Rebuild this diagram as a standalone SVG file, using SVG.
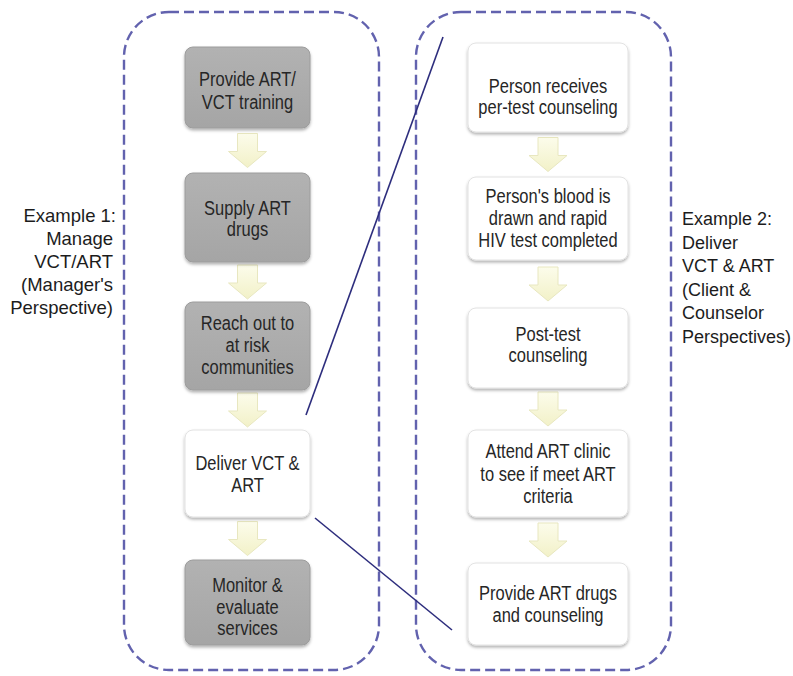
<svg xmlns="http://www.w3.org/2000/svg" xmlns:xlink="http://www.w3.org/1999/xlink" width="793" height="676" viewBox="0 0 793 676">
  <defs>
    <linearGradient id="grayFill" x1="0" y1="0" x2="0" y2="1">
      <stop offset="0" stop-color="#b2b2b2"/>
      <stop offset="1" stop-color="#a5a5a5"/>
    </linearGradient>
    <linearGradient id="ylwFill" x1="0" y1="0" x2="0" y2="1">
      <stop offset="0" stop-color="#fcfceb"/>
      <stop offset="1" stop-color="#f2f1c8"/>
    </linearGradient>
    <filter id="shadow" x="-10%" y="-10%" width="120%" height="130%">
      <feDropShadow dx="0" dy="2" stdDeviation="1.8" flood-color="#000" flood-opacity="0.3"/>
    </filter>
    <!-- block arrow pointing down, origin at top centre -->
    <path id="downArrow" d="M-10,0 H10 V18 H19 L0,34 L-19,18 H-10 Z"/>
  </defs>
  <style>
    .frame{fill:none;stroke:#6262ae;stroke-width:2.4;stroke-dasharray:10 5}
    .gbox{fill:url(#grayFill);stroke:#9c9c9c;stroke-width:1;filter:url(#shadow)}
    .wbox{fill:#ffffff;stroke:#e2e2e2;stroke-width:1;filter:url(#shadow)}
    .arr{fill:url(#ylwFill);stroke:#e8e7c0;stroke-width:1}
    .t{font-family:"Liberation Sans",Arial,Helvetica,sans-serif;font-size:16.5px;fill:#262626;text-anchor:middle}
    .lbl{font-family:"Liberation Sans",Arial,Helvetica,sans-serif;font-size:18.5px;fill:#1c1c1c}
    .lblR{text-anchor:end}
    .small{font-size:18px}
    .link{fill:none;stroke:#2d2d7d;stroke-width:1.6}
  </style>

  <rect width="793" height="676" fill="#ffffff"/>

  <!-- group frames -->
  <g id="frames">
    <rect class="frame" x="124" y="12" width="255" height="658" rx="45" ry="45"/>
    <rect class="frame" x="416" y="12" width="255" height="658" rx="45" ry="45"/>
  </g>

  <!-- side captions -->
  <g id="caption-left" class="lbl lblR">
    <text x="116" y="222">Example 1:</text>
    <text x="113" y="245">Manage</text>
    <text x="113" y="268">VCT/ART</text>
    <text x="113" y="291">(Manager's</text>
    <text x="113" y="314">Perspective)</text>
  </g>
  <g id="caption-right" class="lbl small">
    <text x="682" y="225">Example 2:</text>
    <text x="682" y="248.5">Deliver</text>
    <text x="682" y="272">VCT &amp; ART</text>
    <text x="682" y="295.5">(Client &amp;</text>
    <text x="682" y="319">Counselor</text>
    <text x="682" y="342.5">Perspectives)</text>
  </g>

  <!-- flow arrows -->
  <g id="flow-arrows" class="arr">
    <use xlink:href="#downArrow" x="247.5" y="133.5"/>
    <use xlink:href="#downArrow" x="247.5" y="265"/>
    <use xlink:href="#downArrow" x="247.5" y="393"/>
    <use xlink:href="#downArrow" x="247.5" y="521.5"/>
    <use xlink:href="#downArrow" x="548" y="137.5"/>
    <use xlink:href="#downArrow" x="548" y="267"/>
    <use xlink:href="#downArrow" x="548" y="392"/>
    <use xlink:href="#downArrow" x="548" y="523"/>
  </g>

  <!-- manager's perspective -->
  <g id="m1">
    <rect class="gbox" x="185" y="47" width="125" height="81" rx="8"/>
    <text class="t" transform="matrix(1 0 0 1.2 247.5 86)">Provide ART/</text>
    <text class="t" transform="matrix(1 0 0 1.2 247.5 109)">VCT training</text>
  </g>
  <g id="m2">
    <rect class="gbox" x="185" y="173" width="125" height="89" rx="8"/>
    <text class="t" transform="matrix(1 0 0 1.2 247.5 215)">Supply ART</text>
    <text class="t" transform="matrix(1 0 0 1.2 247.5 236)">drugs</text>
  </g>
  <g id="m3">
    <rect class="gbox" x="185" y="302" width="125" height="88" rx="8"/>
    <text class="t" transform="matrix(1 0 0 1.2 247.5 330)">Reach out to</text>
    <text class="t" transform="matrix(1 0 0 1.2 247.5 352)">at risk</text>
    <text class="t" transform="matrix(1 0 0 1.2 247.5 373.5)">communities</text>
  </g>
  <g id="m4">
    <rect class="wbox" x="185" y="430" width="125" height="87" rx="8"/>
    <text class="t" transform="matrix(1 0 0 1.2 247.5 470)">Deliver VCT &amp;</text>
    <text class="t" transform="matrix(1 0 0 1.2 247.5 492)">ART</text>
  </g>
  <g id="m5">
    <rect class="gbox" x="185" y="560" width="125" height="85" rx="8"/>
    <text class="t" transform="matrix(1 0 0 1.2 247.5 592)">Monitor &amp;</text>
    <text class="t" transform="matrix(1 0 0 1.2 247.5 613.5)">evaluate</text>
    <text class="t" transform="matrix(1 0 0 1.2 247.5 635)">services</text>
  </g>

  <!-- client & counselor perspective -->
  <g id="c1">
    <rect class="wbox" x="468" y="43" width="160" height="89" rx="8"/>
    <text class="t" transform="matrix(1 0 0 1.2 548 93)">Person receives</text>
    <text class="t" transform="matrix(1 0 0 1.2 548 114)">per-test counseling</text>
  </g>
  <g id="c2">
    <rect class="wbox" x="468" y="177" width="160" height="83" rx="8"/>
    <text class="t" transform="matrix(1 0 0 1.2 548 203)">Person's blood is</text>
    <text class="t" transform="matrix(1 0 0 1.2 548 225)">drawn and rapid</text>
    <text class="t" transform="matrix(1 0 0 1.2 548 247)">HIV test completed</text>
  </g>
  <g id="c3">
    <rect class="wbox" x="468" y="308" width="160" height="80" rx="8"/>
    <text class="t" transform="matrix(1 0 0 1.2 548 341)">Post-test</text>
    <text class="t" transform="matrix(1 0 0 1.2 548 362)">counseling</text>
  </g>
  <g id="c4">
    <rect class="wbox" x="468" y="430" width="160" height="87" rx="8"/>
    <text class="t" transform="matrix(1 0 0 1.2 548 458)">Attend ART clinic</text>
    <text class="t" transform="matrix(1 0 0 1.2 548 480.5)">to see if meet ART</text>
    <text class="t" transform="matrix(1 0 0 1.2 548 503)">criteria</text>
  </g>
  <g id="c5">
    <rect class="wbox" x="468" y="563" width="160" height="82" rx="8"/>
    <text class="t" transform="matrix(1 0 0 1.2 548 600)">Provide ART drugs</text>
    <text class="t" transform="matrix(1 0 0 1.2 548 622)">and counseling</text>
  </g>

  <!-- zoom-out lines linking "Deliver VCT & ART" to its detailed steps -->
  <g id="connectors" class="link">
    <line x1="306" y1="415" x2="443" y2="37"/>
    <line x1="315" y1="518" x2="452" y2="630"/>
  </g>
</svg>
